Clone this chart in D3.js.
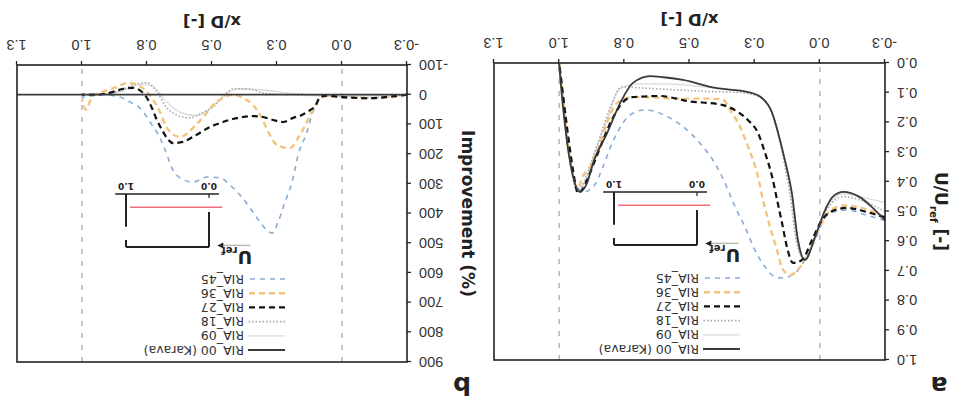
<!DOCTYPE html>
<html>
<head>
<meta charset="utf-8">
<script src="https://cdn.jsdelivr.net/npm/d3@7"></script>
<style>
  body { margin: 0; background: #fff; }
  svg { font-family: "DejaVu Sans", sans-serif; }
</style>
</head>
<body>
<div id="chart"></div>
<script>
// ---- data (x/D, value) ----
const seriesNames = ["RIA_00 (Karava)", "RIA_09", "RIA_18", "RIA_27", "RIA_36", "RIA_45"]

const xTicks = [-0.25, 0, 0.25, 0.5, 0.75, 1.0, 1.25]
const xTickLabels = ["-0.3", "0.0", "0.3", "0.5", "0.8", "1.0", "1.3"]
const yTicksA = [0, 0.1, 0.2, 0.3, 0.4, 0.5, 0.6, 0.7, 0.8, 0.9, 1.0]
const yTickLabelsA = ["0.0", "0.1", "0.2", "0.3", "0.4", "0.5", "0.6", "0.7", "0.8", "0.9", "1.0"]
const yTicksB = [-100, 0, 100, 200, 300, 400, 500, 600, 700, 800, 900]
const yTickLabelsB = ["-100", "0", "100", "200", "300", "400", "500", "600", "700", "800", "900"]

// panel a : U/Uref
const ria00A = [[-0.25,0.53],[-0.2,0.485],[-0.15,0.45],[-0.09,0.434],[-0.05,0.45],[-0.02,0.495],[0.018,0.585],[0.057,0.663],[0.084,0.596],[0.107,0.44],[0.134,0.327],[0.16,0.236],[0.183,0.168],[0.222,0.118],[0.275,0.098],[0.4,0.084],[0.525,0.057],[0.6,0.048],[0.651,0.044],[0.717,0.067],[0.766,0.135],[0.816,0.236],[0.87,0.337],[0.893,0.404],[0.92,0.434],[0.95,0.37],[0.977,0.215],[0.997,0.035],[1.0,0.0]]
const ria09A = [[-0.25,0.47],[-0.15,0.45],[-0.09,0.44],[-0.02,0.5],[0.02,0.59],[0.06,0.665],[0.09,0.59],[0.11,0.44],[0.14,0.31],[0.17,0.2],[0.2,0.14],[0.25,0.105],[0.35,0.09],[0.5,0.075],[0.6,0.07],[0.7,0.07],[0.77,0.09],[0.82,0.2],[0.87,0.32],[0.9,0.4],[0.925,0.43],[0.95,0.37],[0.975,0.2],[1.0,0.0]]
const ria18A = [[-0.25,0.5],[-0.15,0.46],[-0.09,0.45],[-0.03,0.49],[0.02,0.59],[0.06,0.66],[0.09,0.6],[0.115,0.44],[0.14,0.32],[0.165,0.22],[0.19,0.155],[0.23,0.115],[0.3,0.1],[0.45,0.095],[0.6,0.088],[0.7,0.083],[0.76,0.08],[0.8,0.14],[0.84,0.24],[0.88,0.34],[0.91,0.41],[0.93,0.43],[0.955,0.35],[0.978,0.19],[1.0,0.0]]
const ria27A = [[-0.25,0.52],[-0.173,0.5],[-0.108,0.488],[-0.058,0.495],[-0.008,0.529],[0.03,0.596],[0.068,0.663],[0.103,0.673],[0.126,0.62],[0.145,0.539],[0.164,0.461],[0.183,0.383],[0.21,0.303],[0.237,0.236],[0.276,0.192],[0.314,0.165],[0.375,0.141],[0.45,0.133],[0.498,0.13],[0.55,0.12],[0.613,0.111],[0.68,0.113],[0.72,0.115],[0.759,0.135],[0.797,0.19],[0.832,0.26],[0.862,0.327],[0.893,0.394],[0.912,0.428],[0.928,0.438],[0.947,0.36],[0.97,0.215],[1.0,0.0]]
const ria36A = [[-0.25,0.52],[-0.17,0.49],[-0.1,0.48],[-0.05,0.49],[0.0,0.552],[0.038,0.63],[0.076,0.687],[0.114,0.714],[0.145,0.69],[0.164,0.63],[0.191,0.552],[0.218,0.461],[0.241,0.37],[0.275,0.283],[0.306,0.215],[0.337,0.168],[0.375,0.122],[0.45,0.12],[0.55,0.12],[0.663,0.115],[0.72,0.115],[0.778,0.135],[0.816,0.2],[0.843,0.27],[0.874,0.34],[0.908,0.38],[0.928,0.42],[0.958,0.33],[0.977,0.19],[1.0,0.0]]
const ria45A = [[-0.25,0.53],[-0.17,0.51],[-0.108,0.495],[-0.06,0.5],[-0.02,0.52],[0.018,0.596],[0.057,0.663],[0.095,0.707],[0.145,0.724],[0.172,0.72],[0.21,0.687],[0.249,0.63],[0.287,0.552],[0.325,0.485],[0.352,0.428],[0.375,0.383],[0.41,0.327],[0.46,0.27],[0.51,0.225],[0.586,0.18],[0.67,0.158],[0.728,0.175],[0.778,0.236],[0.797,0.27],[0.832,0.35],[0.87,0.418],[0.908,0.434],[0.93,0.42],[0.966,0.27],[0.99,0.06],[1.0,0.0]]

// panel b : improvement (%)
const ria00B = [[-0.25,0],[1.25,0]]
const ria09B = [[-0.25,0],[0.0,5],[0.2,-5],[0.3,-15],[0.4,-20],[0.45,0],[0.5,40],[0.56,70],[0.62,60],[0.68,20],[0.73,-30],[0.78,-35],[0.85,-10],[0.95,0],[1.0,0]]
const ria18B = [[-0.25,0],[-0.1,10],[0.0,5],[0.1,3],[0.2,0],[0.3,-5],[0.35,-18],[0.42,-20],[0.46,10],[0.5,45],[0.535,60],[0.585,78],[0.635,68],[0.673,45],[0.712,-9],[0.75,-40],[0.804,-33],[0.85,-15],[0.9,-5],[0.95,0],[1.0,0]]
const ria27B = [[-0.25,0],[-0.2,5],[-0.1,12],[0.0,8],[0.06,3],[0.085,8],[0.1,35],[0.123,52],[0.154,68],[0.188,78],[0.227,92],[0.265,85],[0.304,75],[0.342,72],[0.381,75],[0.42,82],[0.458,92],[0.508,109],[0.573,142],[0.612,159],[0.65,163],[0.673,146],[0.692,119],[0.712,85],[0.731,45],[0.75,11],[0.769,-9],[0.804,-23],[0.84,-20],[0.9,-5],[0.95,0],[1.0,0]]
const ria36B = [[-0.25,0],[-0.2,8],[-0.1,12],[0.0,8],[0.06,5],[0.096,25],[0.135,92],[0.169,146],[0.2,179],[0.231,176],[0.258,163],[0.277,136],[0.296,102],[0.315,68],[0.342,35],[0.381,11],[0.42,0],[0.458,11],[0.496,35],[0.519,60],[0.56,100],[0.623,142],[0.673,112],[0.7,58],[0.74,0],[0.78,-30],[0.82,-40],[0.87,-25],[0.92,-10],[0.96,5],[0.985,50],[1.0,15]]
const ria45B = [[-0.25,0],[-0.2,5],[-0.1,12],[0.0,10],[0.05,5],[0.077,8],[0.112,58],[0.135,126],[0.169,203],[0.192,294],[0.219,361],[0.246,429],[0.269,466],[0.29,455],[0.315,429],[0.354,381],[0.392,338],[0.431,304],[0.469,280],[0.519,277],[0.573,294],[0.623,280],[0.654,247],[0.673,203],[0.7,146],[0.738,92],[0.777,45],[0.815,25],[0.854,8],[0.93,0],[0.97,5],[1.0,10]]

// ---- styles ----
const styles = [
    { color: "#3a3a3a", width: 1.8, dash: null },
    { color: "#dadada", width: 1.3, dash: null },
    { color: "#a8a8a8", width: 1.6, dash: "1.5,2" },
    { color: "#111111", width: 2.2, dash: "6,4" },
    { color: "#f3c47c", width: 2.4, dash: "6,4" },
    { color: "#86acd6", width: 1.6, dash: "5,5" },
]

const W = 954, H = 403
const svg = d3.select("#chart").append("svg").attr("width", W).attr("height", H)
// the whole figure is shown turned upside down
const root = svg.append("g").attr("transform", `rotate(180 ${W / 2} ${H / 2})`)

function drawInset(g, ox, oy) {
    const sx = d3.scaleLinear().domain([0, 1]).range([ox, ox + 83])
    const sy = d3.scaleLinear().domain([0, 1]).range([oy, oy - 53])
    const ink = "#222"
    // ground axis
    g.append("line").attr("x1", sx(-0.12)).attr("x2", sx(1.13)).attr("y1", sy(0)).attr("y2", sy(0))
        .attr("stroke", ink).attr("stroke-width", 1.5)
    g.append("line").attr("x1", sx(0)).attr("x2", sx(0)).attr("y1", sy(0)).attr("y2", sy(0) - 4)
        .attr("stroke", ink).attr("stroke-width", 1.2)
    ;[[0, "0.0"], [1, "1.0"]].forEach(([v, t]) => {
        g.append("text").attr("x", sx(v)).attr("y", sy(0) + 11).attr("text-anchor", "middle")
            .style("font-size", "9px").style("font-weight", "bold").attr("fill", ink).text(t)
    })
    // building
    const walls = [
        [[0, 1], [1, 1]],
        [[0, 1], [0, 0.34]],
        [[1, 0], [1, 0.62]],
        [[1, 0.87], [1, 1]],
    ]
    walls.forEach(w => {
        g.append("line").attr("x1", sx(w[0][0])).attr("y1", sy(w[0][1]))
            .attr("x2", sx(w[1][0])).attr("y2", sy(w[1][1]))
            .attr("stroke", ink).attr("stroke-width", 2)
    })
    // measurement line
    g.append("line").attr("x1", sx(-0.16)).attr("x2", sx(0.95)).attr("y1", sy(0.25)).attr("y2", sy(0.25))
        .attr("stroke", "#ee6f7a").attr("stroke-width", 1.5)
    // reference wind arrow
    g.append("line").attr("x1", sx(-0.5)).attr("x2", sx(-0.14)).attr("y1", sy(0.97)).attr("y2", sy(0.97))
        .attr("stroke", "#b9bdb0").attr("stroke-width", 1.5)
    g.append("path")
        .attr("d", `M${sx(-0.1)},${sy(0.97)} l-6,-3 l0,6 z`)
        .attr("fill", ink)
    const t = g.append("text").attr("x", sx(-0.52)).attr("y", sy(1.08)).attr("fill", ink)
        .style("font-weight", "bold")
    t.append("tspan").style("font-size", "18px").text("U")
    t.append("tspan").style("font-size", "10px").attr("dy", 4).text("ref")
}

function drawPanel(cfg) {
    const { box, yDomain, yTicks, yLabels, series } = cfg
    const g = root.append("g")
    const x = d3.scaleLinear().domain([-0.25, 1.25]).range([box.x0, box.x1])
    const y = d3.scaleLinear().domain(yDomain).range([box.y1, box.y0])

    // reference verticals at x/D = 0 and 1
    ;[0, 1].forEach(v => {
        g.append("line").attr("x1", x(v)).attr("x2", x(v)).attr("y1", box.y0).attr("y2", box.y1)
            .attr("stroke", "#a9aab8").attr("stroke-width", 1.3).attr("stroke-dasharray", "5,7")
    })

    const line = d3.line().x(d => x(d[0])).y(d => y(d[1])).curve(d3.curveMonotoneX)
    const order = [1, 2, 5, 4, 3, 0]
    order.forEach(i => {
        const s = styles[i]
        g.append("path").datum(series[i])
            .attr("fill", "none")
            .attr("stroke", s.color)
            .attr("stroke-width", s.width)
            .attr("stroke-dasharray", s.dash)
            .attr("d", line)
    })

    // axes
    g.append("g").attr("transform", `translate(0,${box.y1})`)
        .call(d3.axisBottom(x).tickValues(xTicks).tickFormat((d, i) => xTickLabels[i]).tickSize(4).tickPadding(11).tickSizeOuter(0))
        .call(a => a.select(".domain").remove())
        .selectAll("text").style("font-size", "14.5px").attr("fill", "#333")
    g.append("g").attr("transform", `translate(${box.x0},0)`)
        .call(d3.axisLeft(y).tickValues(yTicks).tickFormat((d, i) => yLabels[i]).tickSize(4).tickPadding(8).tickSizeOuter(0))
        .call(a => a.select(".domain").remove())
        .selectAll("text").style("font-size", "14.5px").attr("fill", "#333")
    g.selectAll(".tick line").attr("stroke", "#222").attr("stroke-width", 1.3)

    g.append("rect").attr("x", box.x0).attr("y", box.y0)
        .attr("width", box.x1 - box.x0).attr("height", box.y1 - box.y0)
        .attr("fill", "none").attr("stroke", "#222").attr("stroke-width", 1.6)

    // titles
    g.append("text").attr("x", (box.x0 + box.x1) / 2).attr("y", box.y1 + 49)
        .attr("text-anchor", "middle").style("font-size", "16.5px").style("font-weight", "bold")
        .attr("fill", "#222").text("x/D [-]")
    const yt = g.append("text")
        .attr("transform", `translate(${box.x0 + cfg.yTitleDx},${(box.y0 + box.y1) / 2}) rotate(-90)`)
        .attr("text-anchor", "middle").style("font-size", "17px").style("font-weight", "bold")
        .attr("fill", "#222")
    cfg.yTitle.forEach(p => {
        const ts = yt.append("tspan").text(p.t)
        if (p.sub) ts.style("font-size", "10.5px").attr("dy", 5)
        if (p.back) ts.attr("dy", -5)
    })
    g.append("text").attr("x", box.x0 + cfg.letterDx).attr("y", box.y0 - cfg.letterDy)
        .attr("text-anchor", "middle").style("font-size", "25px").style("font-weight", "bold")
        .attr("fill", "#222").text(cfg.letter)

    // legend
    seriesNames.forEach((name, i) => {
        const ly = box.y0 + cfg.legend.dy + i * 14.2
        const s = styles[i]
        g.append("line").attr("x1", box.x0 + cfg.legend.dx).attr("x2", box.x0 + cfg.legend.dx + 37)
            .attr("y1", ly).attr("y2", ly)
            .attr("stroke", s.color).attr("stroke-width", s.width).attr("stroke-dasharray", s.dash)
        g.append("text").attr("x", box.x0 + cfg.legend.dx + 41).attr("y", ly + 4.5)
            .style("font-size", "12.5px").attr("fill", "#333").text(name)
    })

    drawInset(g, box.x0 + cfg.inset.dx, box.y0 + cfg.inset.dy)
}

drawPanel({
    box: { x0: 69, x1: 460, y0: 43, y1: 340 },
    yDomain: [0, 1], yTicks: yTicksA, yLabels: yTickLabelsA,
    yTitle: [{ t: "U/U" }, { t: "ref", sub: true }, { t: " [-]", back: true }],
    yTitleDx: -50, letter: "a", letterDx: -54, letterDy: 17,
    legend: { dx: 145, dy: 11 },
    inset: { dx: 188, dy: 168 },
    series: [ria00A, ria09A, ria18A, ria27A, ria36A, ria45A],
})
drawPanel({
    box: { x0: 547, x1: 937, y0: 41, y1: 338 },
    yDomain: [-100, 900], yTicks: yTicksB, yLabels: yTickLabelsB,
    yTitle: [{ t: "Improvement (%)" }],
    yTitleDx: -55, letter: "b", letterDx: -55, letterDy: 15,
    legend: { dx: 122, dy: 12 },
    inset: { dx: 198, dy: 168 },
    series: [ria00B, ria09B, ria18B, ria27B, ria36B, ria45B],
})
</script>
</body>
</html>
